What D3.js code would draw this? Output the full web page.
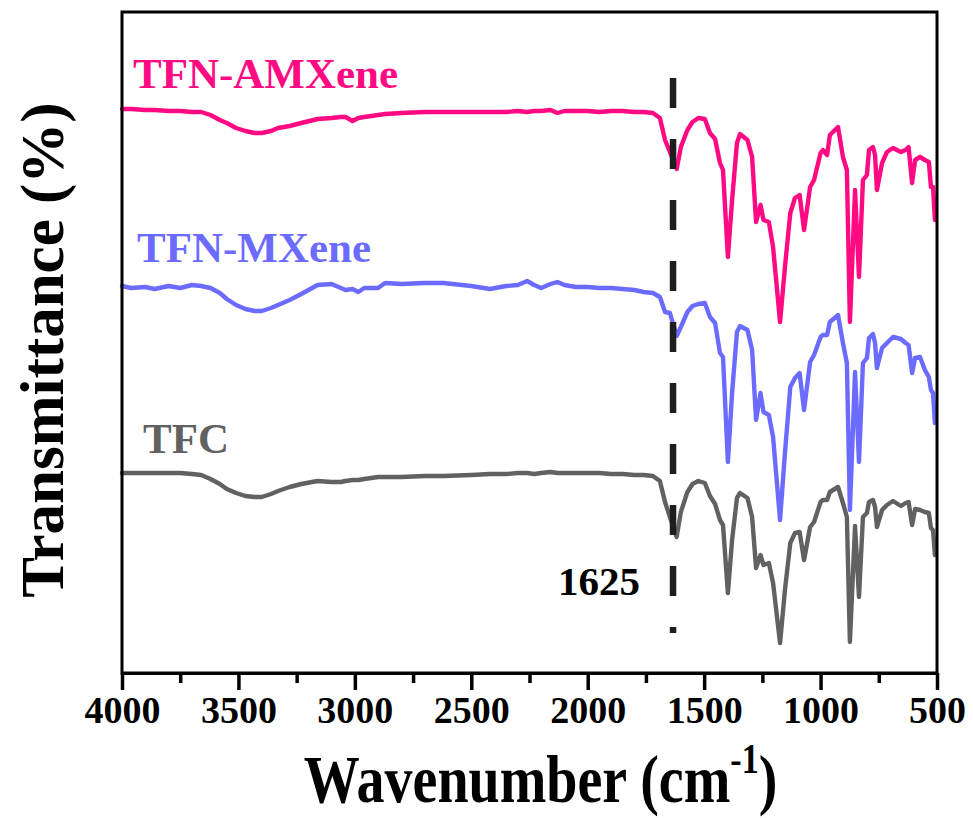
<!DOCTYPE html>
<html>
<head>
<meta charset="utf-8">
<script src="https://cdn.jsdelivr.net/npm/d3@7"></script>
<style>
  html, body { margin: 0; padding: 0; background: #fff; }
  svg { display: block; }
  text { font-family: "Liberation Serif", "Times New Roman", serif; font-weight: bold; }
</style>
</head>
<body>
<svg id="chart" width="973" height="818"></svg>
<script>
// Wavenumbers (cm-1), shared by all three spectra
const wavenumbers = [4000,3960,3900,3860,3800,3750,3700,3660,3620,3580,3550,3510,3470,3430,3400,3360,3330,3280,3230,3160,3100,3060,3040,3010,2985,2960,2900,2870,2800,2700,2620,2500,2420,2350,2300,2260,2230,2200,2160,2130,2100,2050,2000,1950,1900,1850,1800,1760,
  1720,1690,1668,1647,1618,1600,1572,1550,1525,1497,1475,1453,1432,1419,1398,1380,1359,1346,1314,1294,1277,1258,1245,1222,1204,1174,1153,1130,1110,1090,1071,1045,1028,1000,990,972,960,925,904,887,874,852,835,818,801,792,775,766,758,736,715,689,655,635,622,607,594,573,552,535,526,517,509];

// Transmittance (a.u., vertically offset spectra)
const tfnAMXene = [564,564,563,563,562,562,561,561,558,553,550,545,542,540,540,542,545,547,550,554,555,556,556,552,555,556,558,559,560,561,561,561,561,561,562,561,562,562,563,560,562,562,562,561,562,562,561,561,
  560,555,533,521,504,526,543,551,555,554,540,534,510,503,416,473,530,539,533,516,451,468,453,451,426,351,406,460,475,478,443,486,493,520,523,518,538,546,516,503,351,483,396,493,498,523,526,518,483,510,521,525,521,523,526,490,513,516,513,511,486,486,453];

const tfnMXene = [387,385,386,384,387,385,388,387,385,380,374,368,364,362,362,365,368,373,379,388,389,385,383,384,381,385,385,390,389,390,390,387,384,387,388,392,388,385,389,391,388,386,386,385,385,384,383,381,
  380,376,361,360,337,346,361,367,369,370,356,350,320,316,211,280,341,347,343,323,253,280,261,258,236,153,220,286,295,300,263,311,318,336,338,338,351,358,330,310,163,301,211,310,315,335,339,330,305,325,330,336,334,330,328,300,315,316,303,296,283,280,250];

const tfc = [200,200,200,200,200,200,199,198,194,189,184,180,177,176,176,179,182,186,189,192,191,191,192,193,193,194,196,196,196,197,197,198,199,199,200,200,199,200,201,200,200,200,200,200,199,199,198,198,
  197,192,171,156,136,161,181,189,192,190,177,169,153,148,80,133,175,180,175,156,105,118,108,110,90,30,83,130,140,141,113,146,151,171,173,173,181,186,170,156,31,147,76,156,160,171,173,166,146,163,168,172,167,170,171,148,164,163,161,160,145,143,118];

const seriesNames = ["TFN-AMXene", "TFN-MXene", "TFC"];
const seriesColors = ["#ff0a82", "#6b6bff", "#616161"];
const seriesValues = [tfnAMXene, tfnMXene, tfc];
const labelLevels = [585, 411, 220];   // label baseline positions (a.u.)
const xTicks = [4000,3500,3000,2500,2000,1500,1000,500];
const xMinorTicks = [3750,3250,2750,2250,1750,1250,750];
const markerWavenumber = 1625;
const markerRange = [40, 595];

const W = 973, H = 818;
const margin = {left: 122, right: 36, top: 12, bottom: 145};
const svg = d3.select("#chart");

const x = d3.scaleLinear().domain([4000, 500]).range([margin.left, W - margin.right]);
const y = d3.scaleLinear().domain([0, 661]).range([H - margin.bottom, margin.top]);

// spectra
const line = d3.line().x(d => x(d[0])).y(d => y(d[1]));
seriesValues.forEach((vals, i) => {
  const pts = wavenumbers.map((w, j) => [w, vals[j]]);
  svg.append("path").datum(pts)
    .attr("d", line)
    .attr("fill", "none")
    .attr("stroke", seriesColors[i])
    .attr("stroke-width", 4.4)
    .attr("stroke-linejoin", "round")
    .attr("stroke-linecap", "round");
});

// dashed marker line at 1625
svg.append("line")
  .attr("x1", x(markerWavenumber) - 2).attr("x2", x(markerWavenumber) - 2)
  .attr("y1", y(markerRange[1])).attr("y2", y(markerRange[0]))
  .attr("stroke", "#1e1e1e").attr("stroke-width", 6.5)
  .attr("stroke-dasharray", "30 31");

svg.append("text")
  .attr("x", x(markerWavenumber) - 35).attr("y", y(78))
  .attr("text-anchor", "end").attr("font-size", 41).attr("fill", "#000")
  .text(String(markerWavenumber));

// series labels
seriesNames.forEach((n, i) => {
  svg.append("text")
    .attr("x", [133, 137, 143][i]).attr("y", y(labelLevels[i]))
    .attr("font-size", 43).attr("fill", seriesColors[i])
    .text(n);
});

// frame
svg.append("rect")
  .attr("x", margin.left).attr("y", margin.top)
  .attr("width", W - margin.left - margin.right)
  .attr("height", H - margin.top - margin.bottom)
  .attr("fill", "none").attr("stroke", "#000").attr("stroke-width", 3);

// bottom axis
const xAxis = d3.axisBottom(x).tickValues(xTicks).tickSize(17).tickSizeOuter(0).tickPadding(6)
  .tickFormat(d3.format("d"));
const gx = svg.append("g").attr("transform", `translate(0,${H - margin.bottom})`).call(xAxis);
gx.select(".domain").attr("stroke-width", 3);
gx.selectAll(".tick line").attr("stroke-width", 3.5);
gx.selectAll(".tick text").attr("font-size", 38).attr("fill", "#000")
  .attr("font-family", '"Liberation Serif", "Times New Roman", serif').attr("font-weight", "bold");

const xMinor = d3.axisBottom(x).tickValues(xMinorTicks).tickSize(10).tickSizeOuter(0).tickFormat("");
const gm = svg.append("g").attr("transform", `translate(0,${H - margin.bottom})`).call(xMinor);
gm.select(".domain").remove();
gm.selectAll(".tick line").attr("stroke-width", 3.5);

// axis titles
const xt = svg.append("text")
  .attr("transform", `translate(${(margin.left + W - margin.right) / 2 + 11},802) scale(1,1.22)`)
  .attr("text-anchor", "middle").attr("font-size", 56).attr("fill", "#000");
xt.append("tspan").text("Wavenumber (cm");
xt.append("tspan").attr("font-size", 34).attr("dy", -24).text("-1");
xt.append("tspan").attr("dy", 24).text(")");

svg.append("text")
  .attr("transform", `translate(63,350) rotate(-90)`)
  .attr("text-anchor", "middle").attr("font-size", 61).attr("fill", "#000")
  .text("Transmittance (%)");
</script>
</body>
</html>
